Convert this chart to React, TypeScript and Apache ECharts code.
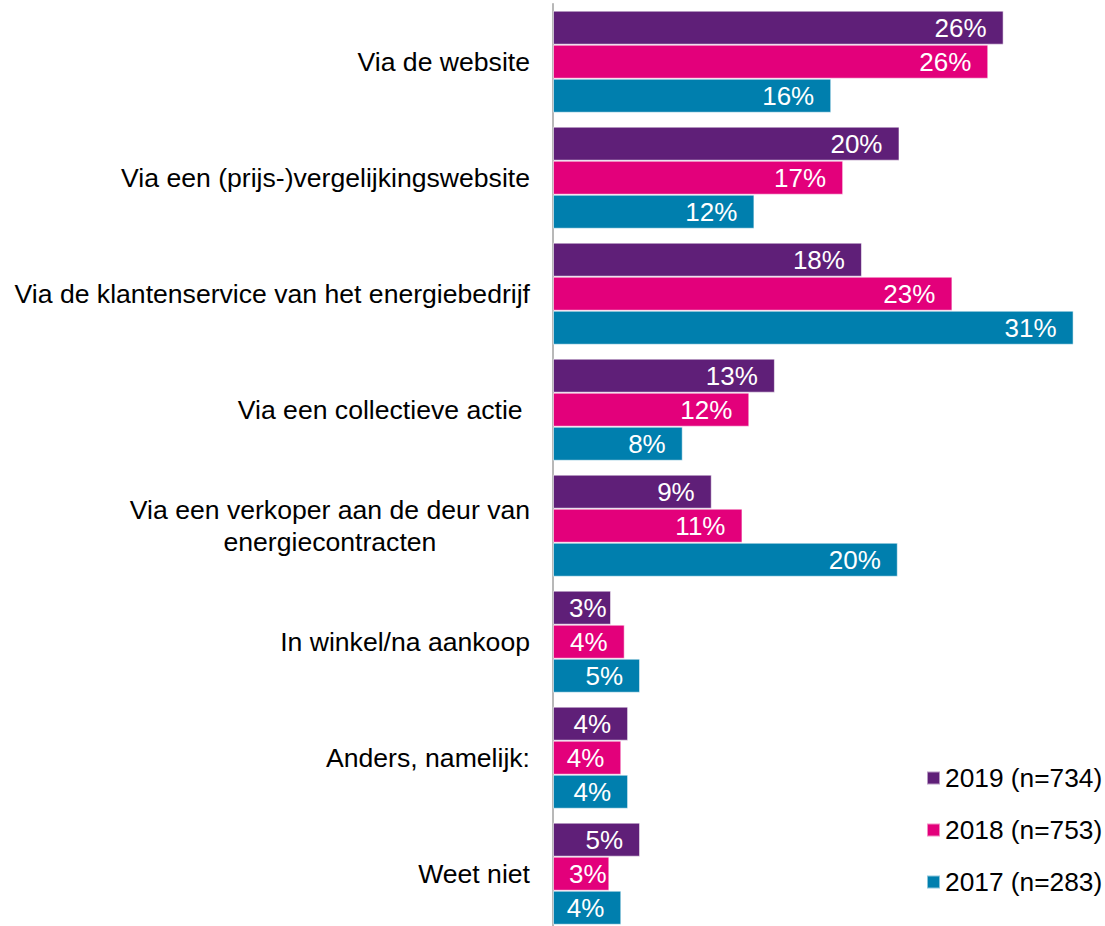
import React, { useEffect, useRef } from "react";
import * as echarts from "echarts";

const categories = [
  "Via de website",
  "Via een (prijs-)vergelijkingswebsite",
  "Via de klantenservice van het energiebedrijf",
  "Via een collectieve actie ",
  "Via een verkoper aan de deur van\nenergiecontracten",
  "In winkel/na aankoop",
  "Anders, namelijk:",
  "Weet niet",
];

const seriesNames = ["2019 (n=734)", "2018 (n=753)", "2017 (n=283)"];
const values2019 = [26.4, 20.3, 18.1, 13.0, 9.3, 3.4, 4.4, 5.1];
const values2018 = [25.5, 17.0, 23.4, 11.5, 11.1, 4.2, 4.0, 3.3];
const values2017 = [16.3, 11.8, 30.5, 7.6, 20.2, 5.1, 4.4, 4.0];
const seriesColors = ["#5f1f78", "#e3007b", "#007fae"];

const FONT = "'Liberation Sans', Arial, sans-serif";

export default function App() {
  const ref = useRef<HTMLDivElement>(null);

  useEffect(() => {
    if (!ref.current) return;
    const chart = echarts.init(ref.current, null, { renderer: "svg" });
    const allValues = [values2019, values2018, values2017];

    const series = allValues.map((vals, i) => ({
      name: seriesNames[i],
      type: "bar",
      barGap: "0%",
      barCategoryGap: "12%",
      itemStyle: {
        color: seriesColors[i],
        borderColor: "rgba(255,255,255,0.55)",
        borderWidth: 1,
      },
      label: {
        show: true,
        position: "insideRight",
        distance: 17,
        color: "#ffffff",
        fontSize: 26,
        fontFamily: FONT,
        formatter: (p: any) => Math.round(p.value) + "%",
      },
      data: vals.map((v) =>
        v < 4
          ? { value: v, label: { position: "insideLeft", distance: 16 } }
          : v
      ),
    }));

    chart.setOption({
      animation: false,
      backgroundColor: "#ffffff",
      grid: {
        left: 553,
        top: 3.7,
        width: 546.2,
        height: 928,
        containLabel: false,
      },
      xAxis: {
        type: "value",
        min: 0,
        max: 32,
        show: false,
        splitLine: { show: false },
      },
      yAxis: {
        type: "category",
        inverse: true,
        data: categories,
        axisLine: { show: true, lineStyle: { color: "#a0a0a0", width: 1.5 } },
        axisTick: { show: false },
        axisLabel: {
          margin: 23,
          color: "#000000",
          fontSize: 26.6,
          fontFamily: FONT,
          align: "right",
          formatter: (val: string) =>
            val.indexOf("\n") >= 0
              ? val
                  .split("\n")
                  .map((l) => "{c|" + l + "}")
                  .join("\n")
              : val,
          rich: {
            c: {
              align: "center",
              fontSize: 26.6,
              fontFamily: FONT,
              color: "#000000",
              lineHeight: 32,
            },
          },
        },
      },
      legend: {
        orient: "vertical",
        left: 921,
        top: 760,
        itemWidth: 13,
        itemHeight: 13,
        itemGap: 26,
        icon: "rect",
        data: seriesNames,
        textStyle: {
          fontSize: 26.3,
          lineHeight: 26,
          color: "#000000",
          fontFamily: FONT,
        },
      },
      series,
    } as any);

    return () => chart.dispose();
  }, []);

  return (
    <div
      ref={ref}
      style={{
        position: "fixed",
        left: 0,
        top: 0,
        width: 1105,
        height: 940,
        background: "#fff",
      }}
    />
  );
}
